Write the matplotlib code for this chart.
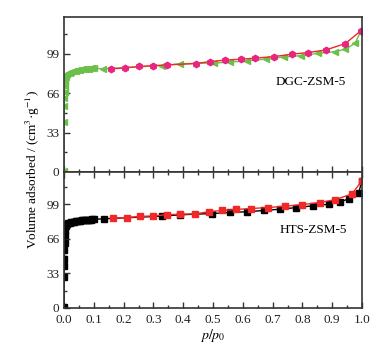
"""N2 吸附-脱附等温线: DGC-ZSM-5 / HTS-ZSM-5 上下两栏。"""

import matplotlib
matplotlib.use("Agg")
import matplotlib.pyplot as plt  # noqa: E402
from matplotlib.ticker import MultipleLocator  # noqa: E402

plt.rcParams["font.family"] = ["Liberation Serif", "DejaVu Serif"]
plt.rcParams["mathtext.fontset"] = "stix"

# DGC-ZSM-5 adsorption (green) / desorption (pink)
dgc_ads_p = [0.0, 0.0005, 0.001, 0.0015, 0.002, 0.003, 0.004, 0.006, 0.008,
             0.01, 0.015, 0.02, 0.025, 0.03, 0.035, 0.04, 0.045, 0.05, 0.055,
             0.06, 0.065, 0.07, 0.075, 0.08, 0.085, 0.09, 0.095, 0.1,
             0.13, 0.328, 0.39, 0.504, 0.558, 0.614, 0.678, 0.739, 0.795,
             0.852, 0.91, 0.944, 0.977, 0.997]
dgc_ads_v = [0.5, 42, 55, 62, 67, 72, 76, 79.5, 81.0,
             82.0, 82.8, 83.4, 83.9, 84.3, 84.7, 85.0, 85.3, 85.6, 85.8,
             86.0, 86.2, 86.4, 86.6, 86.7, 86.8, 86.9, 87.0, 87.1,
             86.5, 89.3, 90.8, 91.4, 92.2, 93.3, 94.7, 96.5, 97.6,
             99.5, 101.0, 103.0, 108.0, 118.6]
dgc_des_p = [0.158, 0.205, 0.253, 0.30, 0.345, 0.443, 0.49, 0.54, 0.593, 0.642,
             0.705, 0.765, 0.82, 0.879, 0.944, 0.997]
dgc_des_v = [86.5, 87.3, 88.5, 89.2, 89.8, 91.0, 92.6, 93.8, 94.6, 95.5,
             96.8, 98.8, 100.2, 102.4, 107.7, 118.6]

# HTS-ZSM-5 adsorption (black) / desorption (red)
hts_ads_p = [0.0, 0.0003, 0.0006, 0.001, 0.0015, 0.002, 0.003, 0.004, 0.006, 0.008,
             0.01, 0.015, 0.02, 0.025, 0.03, 0.035, 0.04, 0.045, 0.05, 0.055,
             0.06, 0.065, 0.07, 0.075, 0.08, 0.085, 0.09, 0.095, 0.1,
             0.134, 0.328, 0.39, 0.498, 0.558, 0.614, 0.67, 0.726, 0.78,
             0.835, 0.888, 0.927, 0.958, 0.989, 1.0]
hts_ads_v = [0.5, 30, 40, 47, 55, 62, 70, 75, 78, 79.5,
             80.3, 81.0, 81.5, 81.9, 82.3, 82.6, 82.9, 83.2, 83.4, 83.6,
             83.8, 84.0, 84.1, 84.2, 84.3, 84.4, 84.5, 84.6, 84.7,
             85.3, 87.8, 89.1, 90.3, 91.3, 92.0, 93.2, 94.5, 96.0,
             97.7, 99.2, 101.5, 104.6, 110.3, 121.7]
hts_des_p = [0.166, 0.21, 0.255, 0.30, 0.345, 0.39, 0.44, 0.485, 0.53, 0.578,
             0.628, 0.683, 0.742, 0.80, 0.858, 0.91, 0.966, 1.0]
hts_des_v = [85.9, 86.5, 87.5, 88.1, 89.1, 89.7, 90.0, 92.0, 93.2, 94.2,
             95.1, 96.0, 97.3, 98.9, 100.8, 103.6, 109.0, 121.7]

GREEN = "#6cc04a"
PINK = "#e8257f"
RED = "#f02828"
SPINE = "#333333"

fig = plt.figure(figsize=(3.85, 3.52), dpi=100)
W, H = 385, 352
left, right = 64 / W, (362 - 64) / W
ax1 = fig.add_axes([left, 1 - 172 / H, right, (172 - 17) / H])
ax2 = fig.add_axes([left, 1 - 308 / H, right, (308 - 172) / H])

ax1.plot(dgc_ads_p, dgc_ads_v, color=GREEN, lw=1, marker="<", ms=4.6,
         mfc=GREEN, mec=GREEN)
ax1.plot(dgc_des_p, dgc_des_v, color=RED, lw=1, marker="h", ms=4.6,
         mfc=PINK, mec=PINK)
ax2.plot(hts_ads_p, hts_ads_v, color="black", lw=1, marker="s", ms=3.8,
         mfc="black", mec="black")
ax2.plot(hts_des_p, hts_des_v, color=RED, lw=1, marker="s", ms=3.8,
         mfc=RED, mec=RED)

for ax in (ax1, ax2):
    ax.set_xlim(0, 1.0)
    ax.set_ylim(0, 130)
    ax.xaxis.set_major_locator(MultipleLocator(0.1))
    ax.xaxis.set_minor_locator(MultipleLocator(0.05))
    ax.yaxis.set_major_locator(MultipleLocator(33))
    ax.yaxis.set_minor_locator(MultipleLocator(16.5))
    ax.tick_params(which="both", direction="in", labelsize=9.5, colors=SPINE,
                   labelcolor="#222222", right=False, width=1.0)
    ax.tick_params(which="major", length=4)
    ax.tick_params(which="minor", length=2.2)
    ax.tick_params(axis="x", pad=4)
    for s in ax.spines.values():
        s.set_color(SPINE)
        s.set_linewidth(1.2)

ax1.tick_params(axis="x", labelbottom=False)
ax2.tick_params(axis="x", top=True, which="both")
ax2.set_xticks([i / 10 for i in range(11)])
ax2.set_xticklabels([f"{i / 10:.1f}" for i in range(11)])

ax1.text(311 / W, 1 - 82 / H, "DGC-ZSM-5", transform=fig.transFigure,
         ha="center", va="center", fontsize=9.5)
ax2.text(313 / W, 1 - 230 / H, "HTS-ZSM-5", transform=fig.transFigure,
         ha="center", va="center", fontsize=9.5)

fig.text(33 / W, 1 - 170 / H, r"Volume adsorbed / (cm$^3$·g$^{-1}$)",
         rotation=90, ha="center", va="center", fontsize=9.5)
fig.text(213 / W, 1 - 336 / H, r"$p/p_0$", ha="center", va="center",
         fontsize=10)

fig.savefig("out.png", dpi=100)
